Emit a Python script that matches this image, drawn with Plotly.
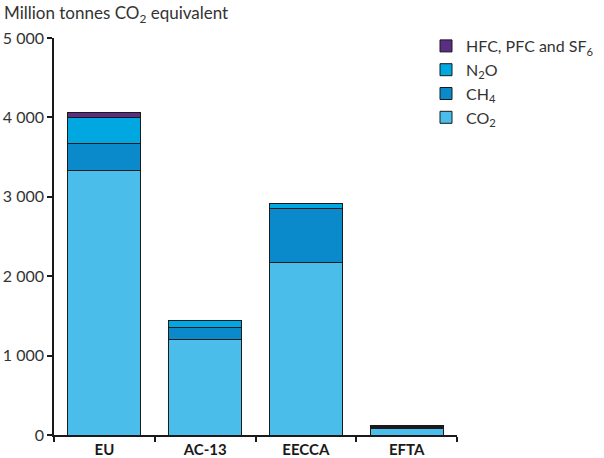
import plotly.graph_objects as go

regions = ["EU", "AC-13", "EECCA", "EFTA"]
co2 = [3327, 1200, 2175, 88]
ch4 = [340, 160, 675, 12]
n2o = [337, 76, 60, 10]
hfc = [58, 10, 8, 6]

series_names = ["CO<sub>2</sub>", "CH<sub>4</sub>", "N<sub>2</sub>O", "HFC, PFC and SF<sub>6</sub>"]
series_values = [co2, ch4, n2o, hfc]
series_colors = ["#4BBDEB", "#0A8ACB", "#00A7E1", "#5B2D83"]

ytick_vals = [0, 1000, 2000, 3000, 4000, 5000]
ytick_text = ["0", "1 000", "2 000", "3 000", "4 000", "5 000"]

FONT = "Lato, 'Open Sans', sans-serif"
TXT = "#333333"

fig = go.Figure()
for name, vals, col in zip(series_names, series_values, series_colors):
    fig.add_trace(go.Bar(
        x=regions, y=vals, name=name,
        marker=dict(color=col, line=dict(color="#1a1a1a", width=1)),
    ))

fig.update_layout(
    width=604, height=458,
    barmode="stack",
    bargap=0.275,
    plot_bgcolor="white", paper_bgcolor="white",
    margin=dict(l=54, r=147, t=38, b=23, autoexpand=False),
    font=dict(family=FONT, size=16, color=TXT),
    showlegend=True,
    legend=dict(
        x=(426 - 54) / 403, y=1 + 9 / 397, xanchor="left", yanchor="top",
        traceorder="reversed",
        font=dict(family=FONT, size=16, color=TXT),
        bgcolor="rgba(0,0,0,0)",
        itemwidth=30,
        tracegroupgap=0,
    ),
    annotations=[dict(
        text="Million tonnes CO<sub>2</sub> equivalent",
        xref="paper", yref="paper",
        x=-52 / 403, y=1 + 24 / 397,
        xanchor="left", yanchor="middle",
        showarrow=False,
        font=dict(family=FONT, size=17, color=TXT),
    )],
)

fig.update_yaxes(
    range=[0, 5000], automargin=False,
    tickvals=ytick_vals, ticktext=ytick_text,
    showgrid=False, zeroline=False,
    showline=True, linecolor="#1a1a1a", linewidth=1.5,
    ticks="outside", ticklen=5, tickcolor="#1a1a1a", tickwidth=1.5,
    tickfont=dict(family=FONT, size=16, color=TXT),
)
fig.update_xaxes(
    automargin=False,
    showgrid=False, zeroline=False,
    showline=True, linecolor="#1a1a1a", linewidth=1.5,
    ticks="outside", tickson="boundaries", ticklen=5, tickcolor="#1a1a1a", tickwidth=1.5,
    tickfont=dict(family=FONT, size=15, color="#1a1a1a", weight="bold"),
)

fig.write_html("out.html", config={"displayModeBar": False},
               post_script="document.body.style.margin='0';")
